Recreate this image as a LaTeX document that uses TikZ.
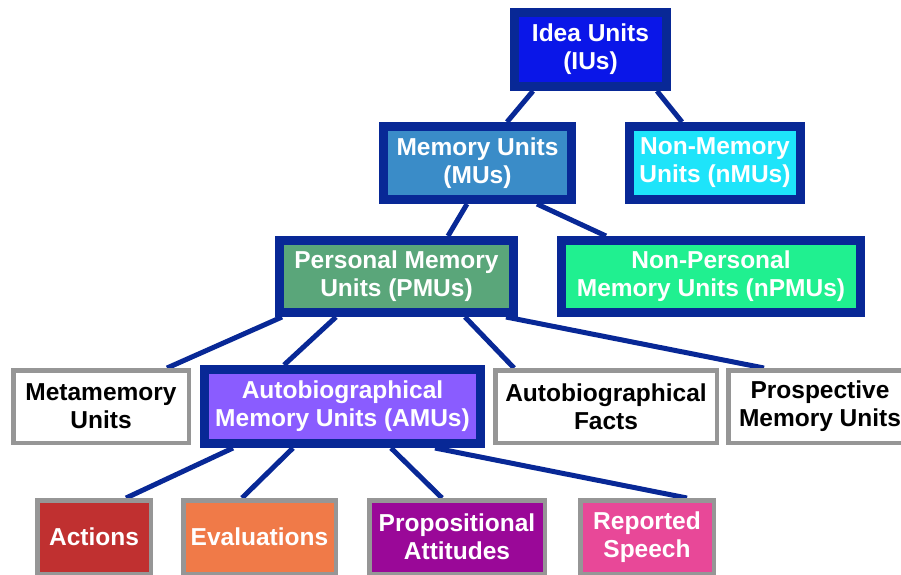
\documentclass[tikz,border=0pt]{standalone}
\usepackage{fontspec}
\setmainfont{Liberation Sans}
\usetikzlibrary{backgrounds}
\definecolor{navy}{RGB}{8,40,150}
\definecolor{greyb}{RGB}{150,150,150}
\definecolor{cIdea}{RGB}{10,22,232}
\definecolor{cMem}{RGB}{58,140,200}
\definecolor{cNonMem}{RGB}{30,228,250}
\definecolor{cPers}{RGB}{90,166,122}
\definecolor{cNonPers}{RGB}{32,240,144}
\definecolor{cAMU}{RGB}{138,92,255}
\definecolor{cAct}{RGB}{192,48,48}
\definecolor{cEval}{RGB}{240,122,72}
\definecolor{cProp}{RGB}{154,8,152}
\definecolor{cRep}{RGB}{232,72,152}
\tikzset{
  bluebox/.style={draw=navy, line width=9pt, text=white, align=center, inner sep=0pt,
    font=\fontsize{24.5}{28}\selectfont\bfseries},
  greybox/.style={draw=greyb, line width=4.5pt, align=center, inner sep=0pt,
    font=\fontsize{24.5}{28}\selectfont\bfseries},
  conn/.style={draw=navy, line width=5pt}
}
\begin{document}
\begin{tikzpicture}[x=1pt,y=-1pt]
\useasboundingbox (0,0) rectangle (901,574);
\clip (0,0) rectangle (901,574);
% top
\node[bluebox, fill=cIdea, minimum width=152pt, minimum height=74pt] (idea) at (590.5,49.5) {Idea Units\\(IUs)};
\node[bluebox, fill=cMem, minimum width=188pt, minimum height=73pt] (mem) at (477.5,163) {Memory Units\\(MUs)};
\node[bluebox, fill=cNonMem, minimum width=171pt, minimum height=73pt] (nonmem) at (715,163) {Non-Memory\\Units (nMUs)};
\node[bluebox, fill=cPers, minimum width=234pt, minimum height=72pt] (pers) at (396.5,276.5) {Personal Memory\\Units (PMUs)};
\node[bluebox, fill=cNonPers, minimum width=299pt, minimum height=72pt] (nonpers) at (711,276.5) {Non-Personal\\Memory Units (nPMUs)};
% third row
\node[greybox, fill=white, minimum width=175.5pt, minimum height=72.5pt] (meta) at (101,406.5) {Metamemory\\Units};
\node[bluebox, fill=cAMU, minimum width=276pt, minimum height=74pt] (amu) at (342.5,406.5) {Autobiographical\\Memory Units (AMUs)};
\node[greybox, fill=white, minimum width=221.5pt, minimum height=72.5pt] (af) at (606,406.5) {Autobiographical\\Facts};
\node[greybox, fill=white, minimum width=183.5pt, minimum height=72.5pt] (prosp) at (820,406.5) {Prospective\\Memory Units};
% bottom row
\node[greybox, fill=cAct, text=white, minimum width=113.5pt, minimum height=73.5pt] (act) at (94,537) {Actions};
\node[greybox, fill=cEval, text=white, minimum width=152.5pt, minimum height=73.5pt] (eval) at (259.5,537) {Evaluations};
\node[greybox, fill=cProp, text=white, minimum width=175.5pt, minimum height=73.5pt] (prop) at (457,537) {Propositional\\Attitudes};
\node[greybox, fill=cRep, text=white, minimum width=133.5pt, minimum height=73.5pt] (rep) at (647,537) {Reported\\Speech};
% connectors
\begin{scope}[on background layer]
\fill[white] (0,0) rectangle (901,574);
\draw[conn] ([xshift=-57.5pt]idea.south) -- ([xshift=29.5pt]mem.north);
\draw[conn] ([xshift=66.5pt]idea.south) -- ([xshift=-33pt]nonmem.north);
\draw[conn] ([xshift=-10.5pt]mem.south) -- ([xshift=51.5pt]pers.north);
\draw[conn] ([xshift=59.5pt]mem.south) -- ([xshift=-105pt]nonpers.north);
\draw[conn] ([xshift=-114.5pt]pers.south) -- ([xshift=66pt]meta.north);
\draw[conn] ([xshift=-60.5pt]pers.south) -- ([xshift=-58.5pt]amu.north);
\draw[conn] ([xshift=68.5pt]pers.south) -- ([xshift=-92pt]af.north);
\draw[conn] ([xshift=109.5pt]pers.south) -- ([xshift=-56pt]prosp.north);
\draw[conn] ([xshift=-109.5pt]amu.south) -- ([xshift=32pt]act.north);
\draw[conn] ([xshift=-49.5pt]amu.south) -- ([xshift=-17.5pt]eval.north);
\draw[conn] ([xshift=48.5pt]amu.south) -- ([xshift=-15pt]prop.north);
\draw[conn] ([xshift=92.5pt]amu.south) -- ([xshift=40pt]rep.north);
\end{scope}
\end{tikzpicture}
\end{document}
